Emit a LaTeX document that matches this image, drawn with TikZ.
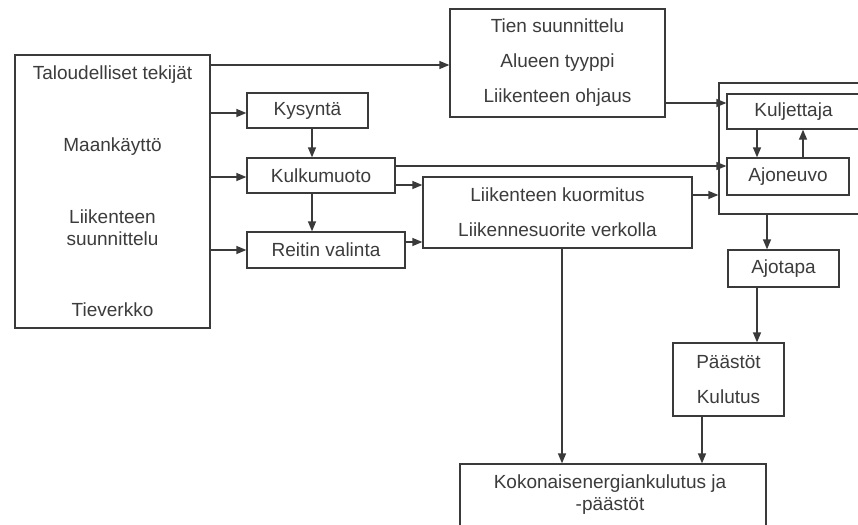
\documentclass[tikz,border=0pt]{standalone}
\usepackage{fontspec}
\setmainfont{Liberation Sans}
\usetikzlibrary{arrows.meta}
\definecolor{ln}{HTML}{3A3A3A}
\definecolor{tx}{HTML}{3C3C3C}
\tikzset{
  box/.style={draw=ln, line width=1.3pt, inner sep=0pt, text=tx, align=center, font=\fontsize{19}{35}\selectfont},
  lbl/.style={inner sep=0pt, text=tx, align=center, font=\fontsize{19}{22}\selectfont},
  arr/.style={draw=ln, line width=1.3pt, -{Triangle[length=10pt,width=8pt]}},
  ln/.style={draw=ln, line width=1.3pt}
}
\begin{document}
\begin{tikzpicture}[x=1pt,y=-1pt]
\useasboundingbox (0,0) rectangle (858,524);
\fill[white] (0,0) rectangle (858,524);
\clip (0,0) rectangle (858,524);
% boxes
\node[box, minimum width=195pt, minimum height=273pt] (L) at (112.5,191.5) {};
\node[lbl] (t1) at (112.5,75) {Taloudelliset tekijät};
\node[lbl] (t2) at (112.5,147) {Maankäyttö};
\node[lbl] (t3) at (112.5,228) {Liikenteen\\suunnittelu};
\node[lbl] (t4) at (112.5,310) {Tieverkko};
\node[box, minimum width=215pt, minimum height=108pt] (tien) at (557.5,63) {Tien suunnittelu\\Alueen tyyppi\\Liikenteen ohjaus};
\node[box, minimum width=121pt, minimum height=35pt] (kys) at (307.5,110.5) {Kysyntä};
\node[box, minimum width=148pt, minimum height=35pt] (kulk) at (321,175.5) {Kulkumuoto};
\node[box, minimum width=158pt, minimum height=36pt] (reit) at (326,250) {Reitin valinta};
\node[box, minimum width=269pt, minimum height=71pt] (liik) at (557.5,212.5) {Liikenteen kuormitus\\Liikennesuorite verkolla};
\node[box, minimum width=151pt, minimum height=131pt] (outer) at (794.5,148.5) {};
\node[box, minimum width=133pt, minimum height=35pt] (kulj) at (793.5,111.5) {Kuljettaja};
\node[box, minimum width=122pt, minimum height=37pt] (ajon) at (788,176.5) {Ajoneuvo};
\node[box, minimum width=111pt, minimum height=37pt] (ajot) at (783.5,268.5) {Ajotapa};
\node[box, minimum width=111pt, minimum height=73pt] (paas) at (728.5,379.5) {Päästöt\\Kulutus};
\node[box, minimum width=306pt, minimum height=64pt, font=\fontsize{19}{24}\selectfont] (koko) at (613,496) {};
\node[lbl] (kokot) at (610,495) {Kokonaisenergiankulutus ja\\-päästöt};
% connectors
\draw[arr] (L.east |- 0,65) -- (tien.west |- 0,65);
\draw[arr] (L.east |- 0,113) -- (kys.west |- 0,113);
\draw[arr] (L.east |- 0,177) -- (kulk.west |- 0,177);
\draw[arr] (L.east |- 0,250) -- (reit.west |- 0,250);
\draw[arr] (kys.south -| 312,0) -- (kulk.north -| 312,0);
\draw[arr] (kulk.south -| 312,0) -- (reit.north -| 312,0);
\draw[arr] (kulk.east |- 0,166) -- (ajon.west |- 0,166);
\draw[arr] (kulk.east |- 0,185) -- (liik.west |- 0,185);
\draw[arr] (reit.east |- 0,242) -- (liik.west |- 0,242);
\draw[arr] (tien.east |- 0,103) -- (kulj.west |- 0,103);
\draw[arr] (liik.east |- 0,195) -- (outer.west |- 0,195);
\draw[arr] (kulj.south -| 757,0) -- (ajon.north -| 757,0);
\draw[arr] (ajon.north -| 803,0) -- (kulj.south -| 803,0);
\draw[arr] (outer.south -| 767,0) -- (ajot.north -| 767,0);
\draw[arr] (ajot.south -| 757,0) -- (paas.north -| 757,0);
\draw[arr] (paas.south -| 702,0) -- (koko.north -| 702,0);
\draw[arr] (liik.south -| 562,0) -- (koko.north -| 562,0);
\end{tikzpicture}
\end{document}
